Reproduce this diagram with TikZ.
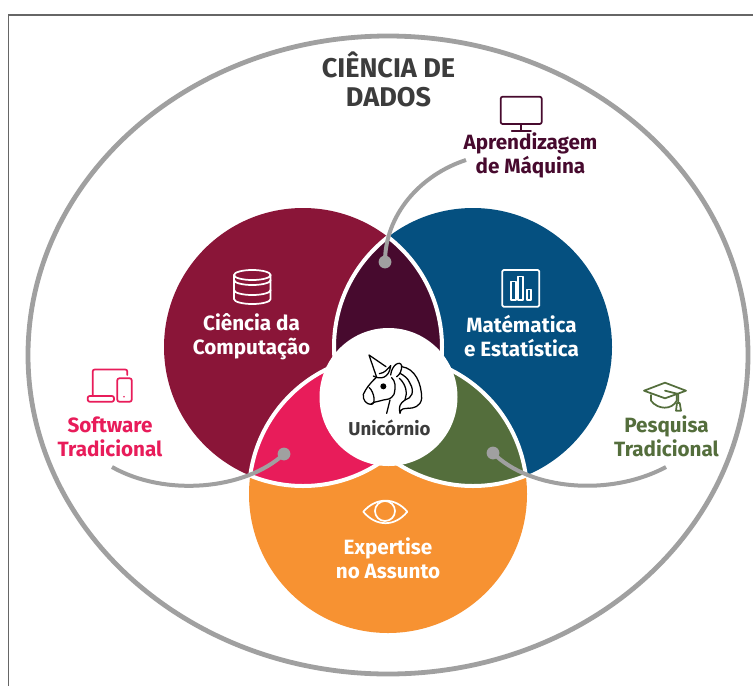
\documentclass[tikz,border=0pt]{standalone}
\usepackage{fontspec}
\setmainfont{Fira Sans}
\definecolor{csred}{HTML}{8A1538}
\definecolor{mathblue}{HTML}{055080}
\definecolor{mlpurple}{HTML}{470A2E}
\definecolor{swpink}{HTML}{E81C5A}
\definecolor{resgreen}{HTML}{546E3C}
\definecolor{domorange}{HTML}{F79232}
\definecolor{calloutgray}{HTML}{A0A0A0}
\definecolor{framegray}{HTML}{666666}
\definecolor{titlegray}{HTML}{3C3C3C}
\newcommand{\redC}{(303,347) circle[radius=139]}
\newcommand{\blueC}{(473,347) circle[radius=139]}
\newcommand{\orangeC}{(388,494) circle[radius=139]}
% a lens: the overlap of two circles, with a white rim along both arcs
\newcommand{\lens}[3]{%
  \begin{scope}\clip #1; \fill[#3] #2; \draw[rimline] #2; \end{scope}
  \begin{scope}\clip #2; \draw[rimline] #1; \end{scope}}
\tikzset{
  rimline/.style={white,line width=3pt},
  callout/.style={calloutgray,line width=3pt},
  calloutdot/.style={circle,fill=calloutgray,inner sep=0pt,minimum size=9.6pt},
  lab/.style={align=center,font=\fontsize{15.5}{18}\selectfont\bfseries,inner sep=0pt},
  icon/.style={line width=1.3pt,line join=round,line cap=round},
}
\begin{document}
\begin{tikzpicture}[x=0.75pt,y=-0.75pt]
\useasboundingbox (0,0) rectangle (753,686);
\fill[white] (0,0) rectangle (753,686);
% open frame: left and top edges only
\draw[framegray,line width=1.2pt] (8.5,686) -- (8.5,15) -- (753,15);
% outer field
\draw[calloutgray,line width=3.6pt] (388,355) ellipse[x radius=360,y radius=319];
% three main circles
\fill[csred] \redC;
\fill[mathblue] \blueC;
\fill[domorange] \orangeC;
% pairwise overlaps
\lens{\redC}{\blueC}{mlpurple}
\lens{\redC}{\orangeC}{swpink}
\lens{\blueC}{\orangeC}{resgreen}
% centre disc
\fill[white] (388.5,397) circle[radius=69];
% callouts
\node[calloutdot] (dotml) at (385,262) {};
\node[calloutdot] (dotsw) at (284,454) {};
\node[calloutdot] (dotres) at (493,453) {};
\coordinate (endml) at (466,160);
\coordinate (endsw) at (112,467);
\coordinate (endres) at (666,467);
\draw[callout] (dotml.center) .. controls (385,215) and (420,175) .. (endml);
\draw[callout] (dotsw.center) .. controls (245,490) and (165,497) .. (endsw);
\draw[callout] (dotres.center) .. controls (530,490) and (610,497) .. (endres);
% labels
\node[lab,font=\fontsize{20.3}{21.75}\selectfont\bfseries,text=titlegray] (title) at (388.5,79) {CIÊNCIA DE\\DADOS};
\node[lab,text=mlpurple] (ml) at (530.5,155.5) {Aprendizagem\\de Máquina};
\node[lab,text=white] (cs) at (251.5,337) {Ciência da\\Computação};
\node[lab,text=white] (math) at (521.5,336) {Matématica\\e Estatística};
\node[lab,text=swpink] (sw) at (110,436.5) {Software\\Tradicional};
\node[lab,text=resgreen] (res) at (666.5,436.5) {Pesquisa\\Tradicional};
\node[lab,text=white] (dom) at (388,558) {Expertise\\no Assunto};
\node[lab,font=\fontsize{14}{18}\selectfont\bfseries,text=titlegray] (uni) at (389.5,428) {Unicórnio};
% database icon
\begin{scope}[icon,white]
  \draw (234,275) arc[start angle=180,end angle=540,x radius=18.3,y radius=5];
  \draw (234,275) -- (234,299) arc[start angle=180,end angle=0,x radius=18.3,y radius=5] -- (270.6,275);
  \draw (234,280) arc[start angle=180,end angle=0,x radius=18.3,y radius=5];
  \draw (234,290) arc[start angle=180,end angle=0,x radius=18.3,y radius=5];
\end{scope}
% monitor icon
\begin{scope}[icon,mlpurple]
  \draw[rounded corners=1.5pt] (500.7,96.7) rectangle (541.7,124);
  \draw (521.2,124) -- (521.2,130.7) (511.7,130.7) -- (531,130.7);
\end{scope}
% bar chart icon
\begin{scope}[icon,white]
  \draw[rounded corners=1pt] (502.3,270) rectangle (539.3,306.7);
  \draw (510.7,281.5) rectangle (515.7,300);
  \draw (518.3,276.5) rectangle (523.3,300);
  \draw (526.7,289.5) rectangle (531,300);
\end{scope}
% laptop and phone icon
\begin{scope}[icon,swpink]
  \draw[rounded corners=1.5pt] (92.7,395) -- (92.7,369.5) -- (127.3,369.5) -- (127.3,375);
  \draw[rounded corners=1.5pt] (87.7,396) rectangle (114,401.7);
  \draw[rounded corners=1.5pt] (117.3,378.3) rectangle (131.7,401.7);
  \fill (124,396.7) circle[radius=0.8];
\end{scope}
% graduation cap icon
\begin{scope}[icon,resgreen]
  \draw (644,390.7) -- (665,382.7) -- (686,390.7) -- (665,398.3) -- cycle;
  \draw (651,395) -- (651,400.7) .. controls (658,410) and (672,410) .. (676.7,400.7) -- (676.7,395);
  \draw (665,390.7) -- (678.3,394) -- (678.3,401.7);
  \draw (676,410.7) -- (677,403) -- (679.7,403) -- (681,410.7) -- cycle;
\end{scope}
% eye icon
\begin{scope}[icon,white]
  \draw (363.3,511.7) .. controls (376,497) and (395,497) .. (407.3,511.7) .. controls (395,527) and (376,527) .. (363.3,511.7) -- cycle;
  \draw (385,511) circle[radius=10];
\end{scope}
% unicorn head
\begin{scope}[shift={(350,345)},x=0.25pt,y=-0.25pt,black,line width=0.95pt,line cap=round,line join=round]
  \draw (80,97) -- (57,30) -- (108,65);
  \draw (70,93) .. controls (90,105) and (118,100) .. (122,62) .. controls (112,72) and (105,84) .. (88,86);
  \draw (78,98) .. controls (60,115) and (48,130) .. (40,148) .. controls (37,165) and (50,178) .. (62,178) .. controls (80,180) and (72,140) .. (58,128);
  \draw (62,178) .. controls (80,165) and (88,172) .. (100,165) .. controls (112,162) and (122,165) .. (132,148) .. controls (138,125) and (136,108) .. (125,98);
  \draw (120,165) -- (110,205);
  \draw (122,90) .. controls (125,60) and (150,45) .. (155,62) .. controls (155,78) and (150,88) .. (140,95);
  \draw (155,65) .. controls (195,70) and (215,115) .. (215,160) .. controls (212,185) and (190,190) .. (175,190);
  \draw (175,190) .. controls (165,190) and (150,190) .. (150,205) .. controls (145,185) and (150,175) .. (165,165) .. controls (185,160) and (195,140) .. (180,115) .. controls (175,100) and (160,90) .. (150,85);
  \draw (165,165) .. controls (172,145) and (170,120) .. (148,100);
  \fill (100,124) circle[radius=9];
\end{scope}
\end{tikzpicture}
\end{document}
